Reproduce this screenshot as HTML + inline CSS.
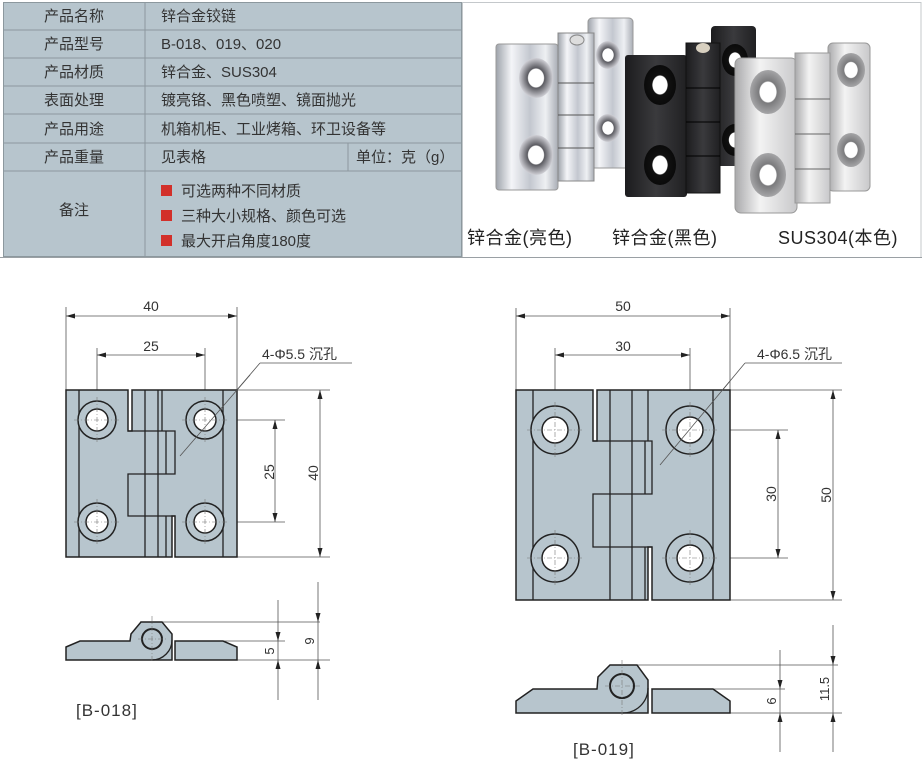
<!DOCTYPE html>
<html><head><meta charset="utf-8"><style>
html,body{margin:0;padding:0;background:#fff;}
svg{display:block;}
text{font-family:"Liberation Sans","Noto Sans CJK SC",sans-serif;}
</style></head><body>
<svg width="922" height="766" viewBox="0 0 922 766" xmlns="http://www.w3.org/2000/svg">
<defs>
<linearGradient id="chrome" x1="0" x2="1" y1="0" y2="0">
<stop offset="0" stop-color="#9ea3ab"/><stop offset="0.25" stop-color="#f4f5f8"/><stop offset="0.55" stop-color="#c3c7cf"/><stop offset="0.8" stop-color="#eef0f3"/><stop offset="1" stop-color="#a9adb5"/></linearGradient>
<linearGradient id="blk" x1="0" x2="1"><stop offset="0" stop-color="#1c1c1e"/><stop offset="0.5" stop-color="#3a3a3d"/><stop offset="1" stop-color="#202022"/></linearGradient>
<linearGradient id="sus" x1="0" x2="1"><stop offset="0" stop-color="#a9a9ab"/><stop offset="0.4" stop-color="#f3f3f3"/><stop offset="1" stop-color="#c8c8ca"/></linearGradient>
<radialGradient id="cone"><stop offset="0" stop-color="#fff"/><stop offset="0.45" stop-color="#fff"/><stop offset="0.5" stop-color="#5a5a60"/><stop offset="1" stop-color="#d0d0d6"/></radialGradient>
<radialGradient id="coneb"><stop offset="0" stop-color="#fff"/><stop offset="0.45" stop-color="#fff"/><stop offset="0.5" stop-color="#111"/><stop offset="1" stop-color="#0a0a0a"/></radialGradient>
<radialGradient id="cones"><stop offset="0" stop-color="#fff"/><stop offset="0.45" stop-color="#fff"/><stop offset="0.5" stop-color="#7a7a7c"/><stop offset="1" stop-color="#a5a5a7"/></radialGradient>
</defs>

<!-- TABLE -->
<rect x="3" y="2" width="459" height="255" fill="#b7c5cd"/>
<g stroke="#8c989e" stroke-width="1" fill="none">
<rect x="3.5" y="2.5" width="458" height="254"/>
<line x1="145" y1="2" x2="145" y2="257"/>
<line x1="3" y1="30" x2="462" y2="30"/>
<line x1="3" y1="58" x2="462" y2="58"/>
<line x1="3" y1="86" x2="462" y2="86"/>
<line x1="3" y1="114" x2="462" y2="114"/>
<line x1="3" y1="143" x2="462" y2="143"/>
<line x1="3" y1="171" x2="462" y2="171"/>
<line x1="348" y1="143" x2="348" y2="171"/>
</g>
<line x1="0" y1="257.5" x2="922" y2="257.5" stroke="#9aa0a4"/>
<line x1="462.5" y1="2" x2="462.5" y2="257" stroke="#c4c8cb"/>
<line x1="921" y1="2" x2="921" y2="257" stroke="#c4c8cb"/>
<line x1="462" y1="2.5" x2="921" y2="2.5" stroke="#c4c8cb"/>
<g font-size="15" fill="#333">
<text x="74" y="21" text-anchor="middle">产品名称</text>
<text x="74" y="49" text-anchor="middle">产品型号</text>
<text x="74" y="77" text-anchor="middle">产品材质</text>
<text x="74" y="105" text-anchor="middle">表面处理</text>
<text x="74" y="134" text-anchor="middle">产品用途</text>
<text x="74" y="162" text-anchor="middle">产品重量</text>
<text x="74" y="215" text-anchor="middle">备注</text>
<text x="161" y="21">锌合金铰链</text>
<text x="161" y="49">B-018、019、020</text>
<text x="161" y="77">锌合金、SUS304</text>
<text x="161" y="105">镀亮铬、黑色喷塑、镜面抛光</text>
<text x="161" y="134">机箱机柜、工业烤箱、环卫设备等</text>
<text x="161" y="162">见表格</text>
<text x="356" y="162">单位：克（g）</text>
<text x="181" y="196">可选两种不同材质</text>
<text x="181" y="221">三种大小规格、颜色可选</text>
<text x="181" y="246">最大开启角度180度</text>
</g>
<rect x="161" y="185" width="11" height="11" fill="#d2302a"/>
<rect x="161" y="210" width="11" height="11" fill="#d2302a"/>
<rect x="161" y="235" width="11" height="11" fill="#d2302a"/>

<!-- PHOTOS -->
<!-- chrome -->
<rect x="588" y="18" width="45" height="150" rx="4" fill="url(#chrome)" stroke="#999"/>
<ellipse cx="608" cy="55" rx="12" ry="14" fill="url(#cone)"/>
<ellipse cx="608" cy="128" rx="12" ry="14" fill="url(#cone)"/>
<rect x="496" y="44" width="62" height="146" rx="3" fill="url(#chrome)" stroke="#999"/>
<ellipse cx="536" cy="78" rx="17" ry="20" fill="url(#cone)"/>
<ellipse cx="536" cy="155" rx="17" ry="20" fill="url(#cone)"/>
<rect x="558" y="33" width="36" height="148" fill="url(#chrome)" stroke="#888"/>
<line x1="558" y1="83" x2="594" y2="83" stroke="#555"/><line x1="558" y1="115" x2="594" y2="115" stroke="#555"/><line x1="558" y1="148" x2="594" y2="148" stroke="#555"/>
<ellipse cx="577" cy="40" rx="7" ry="5" fill="#ddd" stroke="#888"/>
<!-- black -->
<rect x="711" y="26" width="45" height="140" rx="4" fill="url(#blk)"/>
<ellipse cx="735" cy="60" rx="13" ry="16" fill="url(#coneb)"/>
<ellipse cx="735" cy="140" rx="13" ry="16" fill="url(#coneb)"/>
<rect x="625" y="55" width="62" height="142" rx="3" fill="url(#blk)"/>
<ellipse cx="660" cy="85" rx="16" ry="20" fill="url(#coneb)"/>
<ellipse cx="660" cy="165" rx="16" ry="20" fill="url(#coneb)"/>
<rect x="686" y="43" width="34" height="150" fill="url(#blk)" stroke="#111"/>
<line x1="686" y1="88" x2="720" y2="88" stroke="#000"/><line x1="686" y1="122" x2="720" y2="122" stroke="#000"/><line x1="686" y1="156" x2="720" y2="156" stroke="#000"/>
<ellipse cx="703" cy="48" rx="7" ry="5" fill="#d8d0c0"/>
<!-- sus -->
<rect x="828" y="43" width="42" height="148" rx="5" fill="url(#sus)" stroke="#999"/>
<ellipse cx="851" cy="70" rx="14" ry="17" fill="url(#cones)"/>
<ellipse cx="851" cy="150" rx="14" ry="17" fill="url(#cones)"/>
<rect x="735" y="58" width="62" height="155" rx="6" fill="url(#sus)" stroke="#999"/>
<ellipse cx="768" cy="92" rx="18" ry="22" fill="url(#cones)"/>
<ellipse cx="768" cy="175" rx="18" ry="22" fill="url(#cones)"/>
<rect x="795" y="53" width="35" height="150" fill="url(#sus)" stroke="#999"/>
<line x1="795" y1="99" x2="830" y2="99" stroke="#666"/><line x1="795" y1="134" x2="830" y2="134" stroke="#666"/><line x1="795" y1="169" x2="830" y2="169" stroke="#666"/>
<g font-size="18" fill="#222">
<text x="467" y="244" letter-spacing="0.5">锌合金(亮色)</text>
<text x="612" y="244" letter-spacing="0.5">锌合金(黑色)</text>
<text x="778" y="244" letter-spacing="0.5">SUS304(本色)</text>
</g>

<!-- DRAWING 1 -->
<g stroke="#555" stroke-width="0.8" fill="none">
<line x1="66" y1="307" x2="66" y2="390"/><line x1="237" y1="307" x2="237" y2="390"/>
<line x1="97" y1="348" x2="97" y2="420"/><line x1="205" y1="348" x2="205" y2="420"/>
<line x1="66" y1="316" x2="237" y2="316"/>
<line x1="97" y1="355" x2="205" y2="355"/>
<line x1="237" y1="390" x2="330" y2="390"/><line x1="237" y1="557" x2="330" y2="557"/>
<line x1="215" y1="420" x2="285" y2="420"/><line x1="215" y1="522" x2="285" y2="522"/>
<line x1="320" y1="390" x2="320" y2="557"/>
<line x1="275" y1="420" x2="275" y2="522"/>
<line x1="260" y1="363" x2="352" y2="363"/>
<polyline points="260,363 170,468"/>
</g>
<g fill="#222">
<polygon points="66,316 75,313.5 75,318.5"/><polygon points="237,316 228,313.5 228,318.5"/>
<polygon points="97,355 106,352.5 106,357.5"/><polygon points="205,355 196,352.5 196,357.5"/>
<polygon points="320,390 317.5,399 322.5,399"/><polygon points="320,557 317.5,548 322.5,548"/>
<polygon points="275,420 272.5,429 277.5,429"/><polygon points="275,522 272.5,513 277.5,513"/>
</g>
<g font-size="14" fill="#333">
<text x="151" y="311" text-anchor="middle">40</text>
<text x="151" y="351" text-anchor="middle">25</text>
<text x="262" y="359">4-Φ5.5 沉孔</text>
<text transform="translate(274,472) rotate(-90)" text-anchor="middle">25</text>
<text transform="translate(318,473) rotate(-90)" text-anchor="middle">40</text>
</g>
<g stroke="#222" stroke-width="1.5" fill="#b7c5cd">
<polygon points="66,390 128,390 128,431 132,431 132,390 237,390 237,557 175,557 175,516 172,516 172,557 66,557"/>
</g>
<g stroke="#222" stroke-width="1.3" fill="none">
<line x1="79" y1="390" x2="79" y2="557"/><line x1="223" y1="390" x2="223" y2="557"/>
<polyline points="128,431 175,431 175,474 128,474 128,516 175,516"/>
<line x1="145" y1="390" x2="145" y2="557"/><line x1="158" y1="390" x2="158" y2="557"/><line x1="166" y1="431" x2="166" y2="474"/><line x1="166" y1="516" x2="166" y2="557"/>
<line x1="162" y1="390" x2="162" y2="431"/>
</g>
<g stroke="#222" stroke-width="1.5">
<circle cx="97" cy="420" r="19" fill="#b7c5cd"/><circle cx="97" cy="420" r="11" fill="#fff"/>
<circle cx="205" cy="420" r="19" fill="#b7c5cd"/><circle cx="205" cy="420" r="11" fill="#fff"/>
<circle cx="97" cy="522" r="19" fill="#b7c5cd"/><circle cx="97" cy="522" r="11" fill="#fff"/>
<circle cx="205" cy="522" r="19" fill="#b7c5cd"/><circle cx="205" cy="522" r="11" fill="#fff"/>
</g>
<line x1="250" y1="375" x2="180" y2="456" stroke="#555" stroke-width="0.8"/>
<g stroke="#777" stroke-width="0.6" stroke-dasharray="5,2,1,2">
<line x1="74" y1="420" x2="120" y2="420"/><line x1="97" y1="397" x2="97" y2="443"/>
<line x1="182" y1="420" x2="228" y2="420"/><line x1="205" y1="397" x2="205" y2="443"/>
<line x1="74" y1="522" x2="120" y2="522"/><line x1="97" y1="499" x2="97" y2="545"/>
<line x1="182" y1="522" x2="228" y2="522"/><line x1="205" y1="499" x2="205" y2="545"/>
</g>
<!-- side 1 -->
<g stroke="#555" stroke-width="0.8">
<line x1="140" y1="622" x2="320" y2="622"/><line x1="175" y1="641" x2="285" y2="641"/><line x1="237" y1="660" x2="330" y2="660"/>
<line x1="278" y1="600" x2="278" y2="700"/><line x1="318" y1="582" x2="318" y2="700"/>
</g>
<g fill="#222">
<polygon points="278,641 275.5,632 280.5,632"/><polygon points="278,660 275.5,669 280.5,669"/>
<polygon points="318,622 315.5,613 320.5,613"/><polygon points="318,660 315.5,669 320.5,669"/>
</g>
<g font-size="13" fill="#333">
<text transform="translate(274,651) rotate(-90)" text-anchor="middle">5</text>
<text transform="translate(314,641) rotate(-90)" text-anchor="middle">9</text>
</g>
<path d="M66,647 L80,641 L130,641 L131,634 L141,622 L162,622 L172,634 L172,660 L66,660 Z" fill="#b7c5cd" stroke="#222" stroke-width="1.5"/>
<path d="M175,641 L223,641 L237,647 L237,660 L175,660 Z" fill="#b7c5cd" stroke="#222" stroke-width="1.5"/>
<path d="M172,640 A20,20 0 0 1 152,660" fill="none" stroke="#222" stroke-width="1.3"/>
<circle cx="152" cy="639" r="10" fill="none" stroke="#222" stroke-width="2"/>
<g stroke="#777" stroke-width="0.6" stroke-dasharray="5,2,1,2"><line x1="152" y1="616" x2="152" y2="662"/><line x1="138" y1="639" x2="166" y2="639"/></g>
<text x="76" y="716" font-size="17" fill="#333" letter-spacing="1">[B-018]</text>

<!-- DRAWING 2 -->
<g stroke="#555" stroke-width="0.8" fill="none">
<line x1="516" y1="308" x2="516" y2="390"/><line x1="730" y1="308" x2="730" y2="390"/>
<line x1="555" y1="348" x2="555" y2="430"/><line x1="690" y1="348" x2="690" y2="430"/>
<line x1="516" y1="316" x2="730" y2="316"/>
<line x1="555" y1="355" x2="690" y2="355"/>
<line x1="730" y1="390" x2="842" y2="390"/><line x1="730" y1="600" x2="842" y2="600"/>
<line x1="700" y1="430" x2="788" y2="430"/><line x1="700" y1="558" x2="788" y2="558"/>
<line x1="833" y1="390" x2="833" y2="600"/>
<line x1="778" y1="430" x2="778" y2="558"/>
<line x1="745" y1="363" x2="842" y2="363"/>
<line x1="745" y1="363" x2="656" y2="470"/>
</g>
<g fill="#222">
<polygon points="516,316 525,313.5 525,318.5"/><polygon points="730,316 721,313.5 721,318.5"/>
<polygon points="555,355 564,352.5 564,357.5"/><polygon points="690,355 681,352.5 681,357.5"/>
<polygon points="833,390 830.5,399 835.5,399"/><polygon points="833,600 830.5,591 835.5,591"/>
<polygon points="778,430 775.5,439 780.5,439"/><polygon points="778,558 775.5,549 780.5,549"/>
</g>
<g font-size="14" fill="#333">
<text x="623" y="311" text-anchor="middle">50</text>
<text x="623" y="351" text-anchor="middle">30</text>
<text x="757" y="359">4-Φ6.5 沉孔</text>
<text transform="translate(776,494) rotate(-90)" text-anchor="middle">30</text>
<text transform="translate(831,495) rotate(-90)" text-anchor="middle">50</text>
</g>
<g stroke="#222" stroke-width="1.5" fill="#b7c5cd">
<polygon points="516,390 593,390 593,441 597,441 597,390 730,390 730,600 652,600 652,547 648,547 648,600 516,600"/>
</g>
<g stroke="#222" stroke-width="1.3" fill="none">
<line x1="533" y1="390" x2="533" y2="600"/><line x1="713" y1="390" x2="713" y2="600"/>
<polyline points="593,441 652,441 652,494 593,494 593,547 652,547"/>
<line x1="610" y1="390" x2="610" y2="600"/><line x1="632" y1="390" x2="632" y2="600"/><line x1="645" y1="441" x2="645" y2="494"/><line x1="645" y1="547" x2="645" y2="600"/>
<line x1="648" y1="390" x2="648" y2="441"/>
</g>
<g stroke="#222" stroke-width="1.5">
<circle cx="555" cy="430" r="24" fill="#b7c5cd"/><circle cx="555" cy="430" r="13" fill="#fff"/>
<circle cx="690" cy="430" r="24" fill="#b7c5cd"/><circle cx="690" cy="430" r="13" fill="#fff"/>
<circle cx="555" cy="558" r="24" fill="#b7c5cd"/><circle cx="555" cy="558" r="13" fill="#fff"/>
<circle cx="690" cy="558" r="24" fill="#b7c5cd"/><circle cx="690" cy="558" r="13" fill="#fff"/>
</g>
<line x1="730" y1="381" x2="660" y2="465" stroke="#555" stroke-width="0.8"/>
<g stroke="#777" stroke-width="0.6" stroke-dasharray="5,2,1,2">
<line x1="527" y1="430" x2="583" y2="430"/><line x1="555" y1="402" x2="555" y2="458"/>
<line x1="662" y1="430" x2="718" y2="430"/><line x1="690" y1="402" x2="690" y2="458"/>
<line x1="527" y1="558" x2="583" y2="558"/><line x1="555" y1="530" x2="555" y2="586"/>
<line x1="662" y1="558" x2="718" y2="558"/><line x1="690" y1="530" x2="690" y2="586"/>
</g>
<!-- side 2 -->
<g stroke="#555" stroke-width="0.8">
<line x1="610" y1="665" x2="838" y2="665"/><line x1="652" y1="689" x2="785" y2="689"/><line x1="730" y1="713" x2="842" y2="713"/>
<line x1="780" y1="650" x2="780" y2="752"/><line x1="833" y1="625" x2="833" y2="752"/>
</g>
<g fill="#222">
<polygon points="780,689 777.5,680 782.5,680"/><polygon points="780,713 777.5,722 782.5,722"/>
<polygon points="833,665 830.5,656 835.5,656"/><polygon points="833,713 830.5,722 835.5,722"/>
</g>
<g font-size="13" fill="#333">
<text transform="translate(776,701) rotate(-90)" text-anchor="middle">6</text>
<text transform="translate(829,689) rotate(-90)" text-anchor="middle">11.5</text>
</g>
<path d="M516,701 L533,689 L597,689 L598,677 L610,665 L637,665 L648,680 L648,713 L516,713 Z" fill="#b7c5cd" stroke="#222" stroke-width="1.5"/>
<path d="M652,689 L713,689 L730,701 L730,713 L652,713 Z" fill="#b7c5cd" stroke="#222" stroke-width="1.5"/>
<path d="M648,688 A25,25 0 0 1 623,713" fill="none" stroke="#222" stroke-width="1.3"/>
<circle cx="622" cy="686" r="12" fill="none" stroke="#222" stroke-width="2"/>
<g stroke="#777" stroke-width="0.6" stroke-dasharray="5,2,1,2"><line x1="622" y1="660" x2="622" y2="716"/><line x1="605" y1="686" x2="640" y2="686"/></g>
<text x="573" y="755" font-size="17" fill="#333" letter-spacing="1">[B-019]</text>
</svg>
</body></html>
